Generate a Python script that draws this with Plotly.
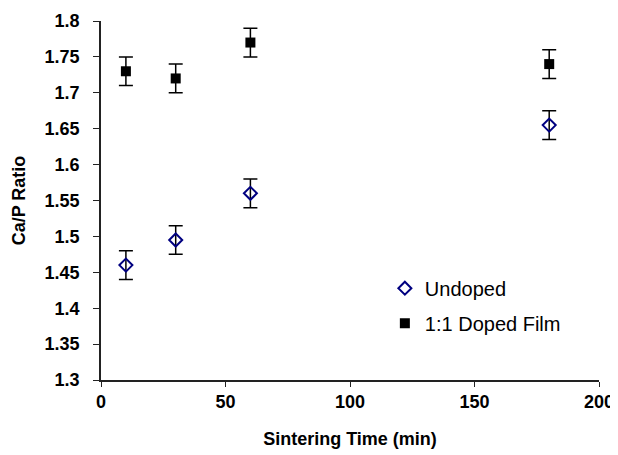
import plotly.graph_objects as go

times = [10, 30, 60, 180]
undoped = [1.46, 1.495, 1.56, 1.655]
undoped_err = [0.02, 0.02, 0.02, 0.02]
doped = [1.73, 1.72, 1.77, 1.74]
doped_err = [0.02, 0.02, 0.02, 0.02]

FONT = "Liberation Sans, Arial, sans-serif"

fig = go.Figure()
fig.add_trace(go.Scatter(
    x=times, y=undoped, mode="markers", name="Undoped", legendgroup="a",
    marker=dict(symbol="diamond-open", size=10, color="#000080", line=dict(width=2, color="#000080")),
    error_y=dict(type="data", array=undoped_err, color="black", thickness=1.5, width=7),
))
fig.add_trace(go.Scatter(
    x=times, y=doped, mode="markers", name="1:1 Doped Film", legendgroup="b",
    marker=dict(symbol="square", size=10, color="black"),
    error_y=dict(type="data", array=doped_err, color="black", thickness=1.5, width=7),
))

fig.update_layout(
    width=610, height=447,
    margin=dict(l=93, r=19, t=13, b=75, autoexpand=False),
    paper_bgcolor="white", plot_bgcolor="white",
    font=dict(family=FONT, color="black"),
    showlegend=True,
    legend=dict(x=0.57, y=0.31, xanchor="left", yanchor="top",
                font=dict(size=20, family=FONT),
                bgcolor="rgba(0,0,0,0)", itemwidth=30, tracegroupgap=6),
)
fig.update_xaxes(
    range=[0, 200], tickvals=[0, 50, 100, 150, 200],
    showline=True, linecolor="#222", linewidth=1.5, automargin=False,
    ticks="outside", ticklen=5, tickcolor="#222", showgrid=False, zeroline=False,
    tickfont=dict(size=18, family=FONT, weight="bold"),
    title=dict(text="<b>Sintering Time (min)</b>", font=dict(size=18), standoff=21),
)
fig.update_yaxes(
    range=[1.3, 1.8], tickvals=[1.3, 1.35, 1.4, 1.45, 1.5, 1.55, 1.6, 1.65, 1.7, 1.75, 1.8],
    ticktext=["1.3", "1.35", "1.4", "1.45", "1.5", "1.55", "1.6", "1.65", "1.7", "1.75", "1.8"],
    showline=True, linecolor="#222", linewidth=1.5, automargin=False,
    ticks="outside", ticklen=6, tickcolor="#222", showgrid=False, zeroline=False,
    ticklabelstandoff=10,
    tickfont=dict(size=18, family=FONT, weight="bold"),
    title=dict(text="<b>Ca/P Ratio</b>", font=dict(size=18), standoff=14),
)

fig.write_html("out.html")
